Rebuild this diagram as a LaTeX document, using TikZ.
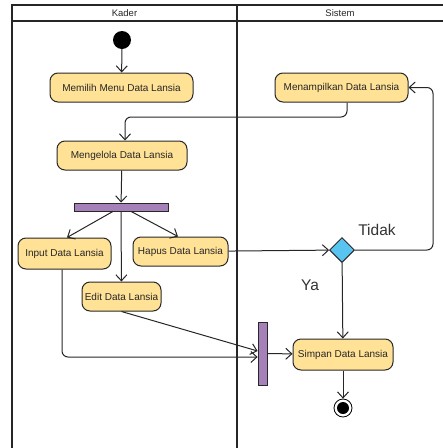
\documentclass[tikz,border=0pt]{standalone}
\usepackage{fontspec}
\setmainfont{Liberation Sans}
\usetikzlibrary{arrows.meta,shapes.geometric}
\definecolor{actfill}{RGB}{255,226,150}
\definecolor{actdraw}{RGB}{40,40,40}
\definecolor{barfill}{RGB}{166,128,184}
\definecolor{decfill}{RGB}{90,196,240}
\tikzset{
  act/.style={draw=actdraw, fill=actfill, rounded corners=8pt, line width=1pt,
    minimum height=#1, inner sep=2pt, font=\fontsize{10}{12}\selectfont, text=black!85},
  act/.default=29pt,
  bar/.style={draw=actdraw, fill=barfill, line width=0.8pt, inner sep=0pt},
  flow/.style={draw=black!85, line width=1pt, -{Straight Barb[length=6pt,width=11pt,line width=1pt]}},
  lane/.style={draw=black!85, line width=1.8pt},
  lanehead/.style={font=\fontsize{9.5}{11}\selectfont, text=black!85},
  guard/.style={font=\fontsize{15.5}{18}\selectfont, text=black!80},
}
\begin{document}
\begin{tikzpicture}[x=1pt,y=-1pt]
\useasboundingbox (0,0) rectangle (443,448);
% swimlanes
\begin{scope}
\clip (0,0) rectangle (443,448);
\draw[lane] (12,5) rectangle (446,452);
\draw[lane] (12,21) -- (446,21);
\draw[lane] (237,5) -- (237,452);
\end{scope}
\node[lanehead] (hk) at (124.5,13.5) {Kader};
\node[lanehead] (hs) at (340,13.5) {Sistem};
% start
\node[circle, fill=black, minimum size=18pt, inner sep=0pt] (start) at (122,40) {};
% activities
\node[act, minimum width=143pt] (memilih) at (121.5,87.5) {Memilih Menu Data Lansia};
\node[act, minimum width=133pt] (tampil) at (341.5,87.5) {Menampilkan Data Lansia};
\node[act, minimum width=130pt] (kelola) at (122,155.5) {Mengelola Data Lansia};
\node[bar, minimum width=94pt, minimum height=8pt] (fork) at (121,207) {};
\node[act=31pt, minimum width=93pt] (input) at (64.5,253.5) {Input Data Lansia};
\node[act, minimum width=95pt] (hapus) at (180.5,251.5) {Hapus Data Lansia};
\node[act, minimum width=79pt] (edit) at (121.5,296.5) {Edit Data Lansia};
\node[diamond, draw=actdraw, fill=decfill, line width=1pt, minimum width=25pt, minimum height=25pt, inner sep=0pt] (dec) at (342,250) {};
\node[guard] (tidak) at (377,230) {Tidak};
\node[guard] (ya) at (310,285) {Ya};
\node[bar, minimum width=9pt, minimum height=63pt] (join) at (262.5,353.5) {};
\node[act=31pt, minimum width=100pt] (simpan) at (343,354.5) {Simpan Data Lansia};
\node[circle, draw=black, line width=0.8pt, fill=white, minimum size=18pt, inner sep=0pt] (end) at (343,408) {};
\node[circle, fill=black, minimum size=12pt, inner sep=0pt] (endc) at (343,408) {};
% flows
\draw[flow] (start) -- (memilih);
\draw[flow, rounded corners=6pt] (tampil.south -| 347,0) -- (347,117) -- (125,117) -- (kelola.north -| 125,0);
\draw[flow] (kelola) -- (fork);
\draw[flow] (fork.south -| 113,0) -- (input.north -| 67,0);
\draw[flow] (fork) -- (edit);
\draw[flow] (fork.south -| 131,0) -- (hapus.north -| 178,0);
\draw[flow] (hapus) -- (dec);
\draw[flow, rounded corners=6pt] (dec.east) -- (433,250) -- (433,87.5) -- (tampil.east);
\draw[flow] (dec) -- (simpan);
\draw[flow, rounded corners=6pt] (input.south -| 62,0) -- (62,357) -- (join.west |- 0,357);
\draw[flow] (edit.south) -- (join.west |- 0,351);
\draw[flow] (join) -- (simpan);
\draw[flow] (simpan) -- (end);
\end{tikzpicture}
\end{document}
